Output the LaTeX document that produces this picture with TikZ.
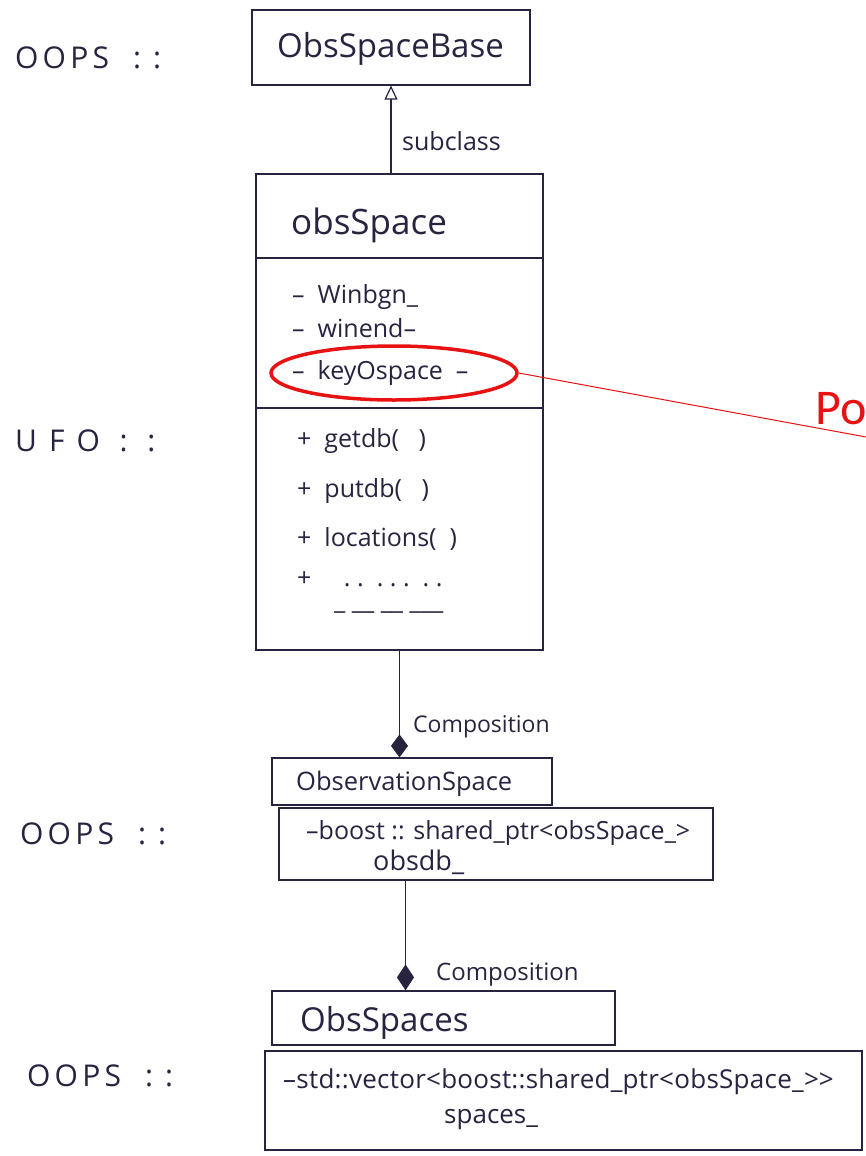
\documentclass[tikz,border=0pt]{standalone}
\usepackage{fontspec}
\setmainfont{Open Sans}
\newfontfamily\calibri{Carlito}
\usetikzlibrary{arrows.meta,shapes.geometric}
\definecolor{ink}{RGB}{40,36,64}
\definecolor{redmark}{RGB}{232,18,18}
\tikzset{
  classbox/.style={draw=ink, line width=1.2pt, rectangle, inner sep=0pt},
  txt/.style={text=ink, anchor=base west, inner sep=0pt, font=\fontsize{#1}{#1}\selectfont},
  spaced/.style 2 args={text=ink, anchor=base west, inner sep=0pt,
    font=\addfontfeatures{LetterSpace=#2}\fontsize{#1}{#1}\selectfont},
  ns/.style={spaced={30}{14}},
  subarrow/.style={draw=ink, line width=1.2pt, -{Triangle[open,length=14pt,width=13pt]}},
  comp/.style={draw=ink, line width=1.2pt, -{Diamond[length=#1,width=17pt]}},
}
\begin{document}
\begin{tikzpicture}[x=1pt,y=-1pt]
\useasboundingbox (0,0) rectangle (866,1156);
\fill[white] (0,0) rectangle (866,1156);

% namespaces on the left
\node[ns] (nsBase) at (15,69) {OOPS\ \ :\ :};
\node[spaced={30}{40}] (nsUfo) at (15,451) {UFO\ :\ :};
\node[ns] (nsObsv) at (20,844) {OOPS\ \ :\ :};
\node[ns] (nsSpaces) at (27,1086) {OOPS\ \ :\ :};

% ObsSpaceBase
\node[classbox, minimum width=278pt, minimum height=75pt] (base) at (391,47.5) {};
\node[txt=33] (baseName) at (277,57) {ObsSpaceBase};

% obsSpace with its three parts
\node[classbox, minimum width=287pt, minimum height=476pt] (obsSpace) at (399.5,412) {};
\draw[ink, line width=1.2pt] (obsSpace.west |- 0,258) -- (obsSpace.east |- 0,258);
\draw[ink, line width=1.2pt] (obsSpace.west |- 0,408) -- (obsSpace.east |- 0,408);
\node[txt=35] (obsName) at (291,234) {obsSpace};
\node[txt=25] (attrBgn) at (292,303) {–\ \ Winbgn\_};
\node[txt=25] (attrEnd) at (292,337) {–\ \ winend–};
\node[txt=25] (attrKey) at (292,379) {–\ \ keyOspace\ \ –};
\node[txt=25] (opGet) at (297,447) {+\ \ getdb(\ \ \ )};
\node[txt=25] (opPut) at (297,497) {+\ \ putdb(\ \ \ )};
\node[txt=25] (opLoc) at (297,546) {+\ \ locations(\ \ )};
\node[txt=25] (opMore) at (297,586) {+\ \ \ \ \ .\ .\ \ .\ .\ .\ \ .\ .};
\node[txt=25] (opDash) at (334,609) {\_\ \_\_\ \_\_\ \_\_\_};

\draw[subarrow] (obsSpace.north -| base.south) -- (base.south);
\node[txt=25] (subLbl) at (402,150) {subclass};

% red mark
\node[draw=redmark, line width=3.5pt, ellipse, minimum width=246pt, minimum height=54pt, inner sep=0pt] (keyRing) at (394,373) {};
\coordinate (poEnd) at (866,437);
\draw[redmark, line width=1pt] (keyRing.east) -- (poEnd);
\node[text=redmark, font=\calibri\fontsize{50}{50}\selectfont, anchor=base west, inner sep=0pt] (po) at (815,424) {Po};

% ObservationSpace
\node[classbox, minimum width=280pt, minimum height=47pt] (obsv) at (412,781.5) {};
\node[txt=25.5] (obsvName) at (296,790) {ObservationSpace};
\node[classbox, minimum width=434pt, minimum height=72pt] (obsvData) at (496,844) {};
\node[txt=25] (obsvPtr) at (306,839) {–boost\ :: shared\_ptr<obsSpace\_>};
\node[txt=27] (obsvDb) at (373,870) {obsdb\_};

\draw[comp=23pt] (obsSpace.south) -- (obsSpace.south |- obsv.north);
\node[txt=23] (compLblA) at (413,732) {Composition};

% ObsSpaces
\node[classbox, minimum width=343pt, minimum height=54pt] (spaces) at (443.5,1018) {};
\node[txt=33] (spacesName) at (300,1031) {ObsSpaces};
\node[classbox, minimum width=597pt, minimum height=99pt] (spacesData) at (563.5,1100.5) {};
\node[spaced={26}{1}] (spacesVec) at (283,1088) {–std::vector<boost::shared\_ptr<obsSpace\_>\kern0pt>};
\node[txt=26] (spacesMem) at (444,1123) {spaces\_};

\coordinate (compB) at ([xshift=-6.5pt]obsv.south);
\draw[comp=26pt] (obsvData.south -| compB) -- (compB |- spaces.north);
\node[txt=24] (compLblB) at (436,980) {Composition};
\end{tikzpicture}
\end{document}
